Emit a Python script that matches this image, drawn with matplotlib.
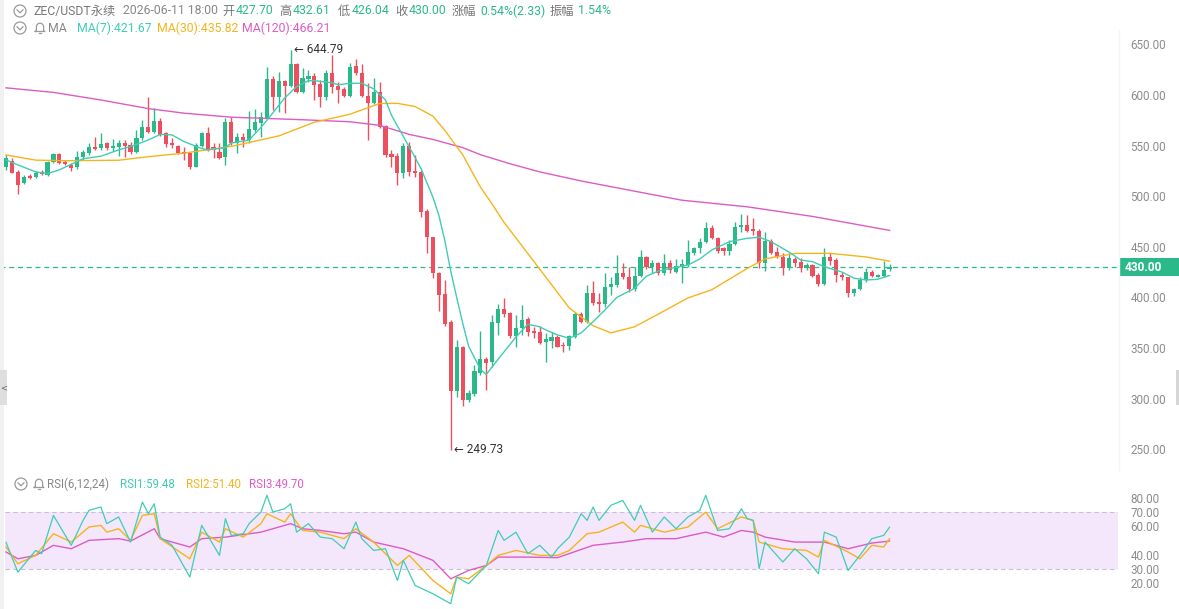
import numpy as np
import matplotlib.pyplot as plt
from matplotlib.patches import Rectangle, Ellipse
from matplotlib.lines import Line2D
import matplotlib.transforms as mtransforms

# ---- candles (ZEC/USDT perpetual) ----
opens = [528.6, 535.1, 524.3, 513.4, 520.0, 518.7, 523.9, 521.0, 534.2, 541.7,
         534.2, 530.9, 528.6, 538.4, 542.4, 549.0, 547.3, 552.2, 547.3, 548.3,
         552.9, 550.6, 543.7, 557.2, 568.7, 563.8, 574.3, 562.1, 552.2, 549.6,
         544.0, 542.4, 529.2, 549.6, 562.1, 548.3, 544.0, 539.1, 573.6, 552.9,
         558.8, 555.5, 565.4, 572.6, 576.9, 615.4, 598.3, 614.1, 608.8, 630.5,
         603.2, 616.1, 618.7, 610.8, 597.6, 622.0, 608.8, 605.5, 599.0, 628.6,
         621.3, 599.0, 592.4, 603.2, 569.3, 541.7, 539.7, 523.3, 549.6, 524.9,
         524.2, 485.7, 459.4, 424.5, 403.4, 376.1, 307.9, 351.4, 298.7, 304.6,
         325.0, 339.5, 336.0, 375.1, 388.9, 385.0, 361.9, 369.5, 378.4, 367.2,
         366.2, 356.3, 357.3, 361.2, 353.0, 352.0, 361.2, 383.6, 376.1, 404.7,
         395.8, 393.5, 410.0, 412.3, 424.5, 419.9, 408.0, 421.2, 439.6, 429.7,
         434.3, 423.8, 434.3, 425.4, 430.4, 432.0, 444.2, 448.5, 455.1, 468.2,
         458.4, 448.5, 446.2, 452.8, 469.2, 471.5, 467.2, 465.9, 433.7, 456.1,
         445.2, 440.3, 428.7, 437.6, 435.3, 428.7, 432.0, 422.2, 413.3, 439.6,
         437.0, 422.2, 419.8, 404.7, 408.0, 417.2, 425.4, 420.5, 421.2, 427.70]
highs = [540.7, 537.4, 525.9, 521.0, 522.0, 524.6, 525.9, 535.1, 543.0, 542.4,
         535.8, 532.5, 545.0, 545.7, 552.2, 558.8, 562.1, 553.9, 556.2, 555.5,
         555.5, 553.9, 565.4, 575.3, 598.3, 586.8, 576.9, 563.8, 557.2, 550.6,
         548.9, 543.0, 552.2, 563.8, 568.7, 552.2, 552.2, 576.9, 577.9, 562.1,
         562.1, 584.5, 585.8, 583.5, 627.9, 618.7, 623.0, 614.8, 644.79, 631.2,
         626.3, 624.6, 621.3, 614.8, 624.6, 639.4, 613.1, 608.2, 631.2, 635.2,
         630.5, 611.4, 616.4, 613.1, 570.3, 545.6, 542.4, 552.2, 553.9, 540.7,
         525.9, 487.0, 460.0, 425.5, 417.2, 377.7, 358.0, 352.0, 308.6, 333.2,
         367.2, 341.0, 382.6, 393.5, 399.8, 385.9, 382.6, 392.5, 380.3, 371.1,
         371.8, 364.5, 366.2, 362.9, 356.3, 362.9, 386.0, 386.0, 412.3, 416.6,
         404.0, 423.8, 420.5, 441.9, 433.7, 430.4, 430.4, 446.8, 440.9, 437.0,
         435.3, 442.6, 437.0, 437.6, 437.6, 456.7, 450.1, 458.4, 474.8, 471.5,
         460.0, 450.1, 456.7, 474.8, 482.4, 481.4, 478.1, 467.2, 464.9, 457.4,
         450.1, 443.6, 443.6, 440.2, 438.6, 433.7, 433.0, 423.8, 448.5, 443.6,
         438.6, 425.4, 420.5, 409.0, 419.8, 428.7, 427.1, 423.1, 436.3, 432.61]
lows = [525.9, 522.6, 502.2, 512.1, 516.7, 518.0, 520.7, 520.0, 533.2, 531.9,
        530.9, 525.3, 527.3, 535.8, 540.7, 545.7, 545.7, 545.7, 545.0, 539.7,
        539.1, 541.7, 542.4, 555.5, 562.1, 562.8, 559.5, 549.0, 547.3, 541.7,
        535.8, 526.6, 528.6, 548.3, 545.0, 537.4, 536.8, 530.9, 550.6, 542.4,
        548.9, 552.2, 563.8, 558.8, 575.9, 585.1, 583.5, 582.5, 608.2, 602.2,
        602.2, 613.1, 595.0, 588.4, 595.0, 601.6, 591.7, 597.6, 598.3, 619.7,
        597.6, 555.5, 591.0, 567.0, 538.4, 529.2, 511.1, 517.6, 520.0, 519.3,
        479.8, 443.6, 418.9, 386.9, 371.8, 249.73, 302.0, 292.8, 297.0, 302.6,
        323.4, 309.0, 331.6, 362.9, 381.0, 360.0, 351.4, 362.9, 361.9, 359.6,
        354.0, 336.6, 349.7, 350.7, 346.4, 348.1, 359.6, 374.4, 374.4, 392.5,
        386.0, 390.2, 402.4, 410.6, 417.9, 405.7, 406.7, 419.9, 427.8, 423.8,
        422.2, 422.2, 423.8, 423.8, 413.9, 430.4, 441.9, 443.6, 453.4, 457.4,
        443.6, 441.9, 441.9, 451.8, 464.9, 464.9, 461.6, 428.7, 426.4, 442.9,
        438.6, 422.2, 427.1, 430.4, 425.4, 427.1, 419.8, 411.3, 412.3, 432.0,
        415.6, 417.2, 400.8, 401.4, 407.3, 415.6, 419.8, 419.8, 420.5, 426.04]
closes = [537.4, 523.3, 511.1, 518.7, 518.0, 523.3, 522.0, 534.2, 541.7, 532.5,
          531.9, 527.6, 539.1, 544.0, 549.0, 547.0, 551.6, 547.3, 549.6, 552.9,
          549.6, 544.0, 557.2, 568.7, 563.8, 574.3, 560.5, 551.3, 550.3, 542.4,
          541.7, 529.2, 550.6, 562.1, 546.3, 545.7, 537.4, 573.6, 552.2, 558.8,
          555.5, 566.0, 573.6, 577.9, 615.4, 598.3, 614.1, 609.2, 630.5, 603.2,
          616.4, 618.7, 609.8, 597.6, 622.0, 608.2, 604.9, 599.0, 627.3, 621.3,
          599.0, 592.4, 603.2, 568.7, 540.7, 539.1, 523.3, 549.6, 524.2, 523.3,
          484.7, 459.4, 423.8, 402.4, 373.8, 307.9, 351.4, 298.7, 305.3, 327.6,
          338.9, 335.6, 376.0, 388.2, 383.6, 361.9, 369.5, 377.7, 366.2, 365.2,
          355.3, 358.6, 361.2, 351.4, 352.0, 361.9, 383.6, 376.1, 404.7, 394.8,
          393.5, 410.0, 413.3, 424.5, 419.9, 408.0, 421.2, 439.6, 429.7, 434.3,
          424.5, 434.3, 427.1, 431.0, 433.0, 445.2, 448.5, 455.1, 468.2, 458.4,
          446.2, 446.2, 452.8, 469.9, 471.5, 465.9, 465.9, 434.3, 456.1, 444.2,
          440.3, 428.7, 438.6, 433.7, 428.7, 432.0, 421.2, 413.3, 439.6, 436.3,
          422.2, 419.8, 404.7, 408.0, 417.2, 425.4, 421.2, 422.2, 427.1, 430.00]

# ---- moving averages, read at selected candles ----
ma7_idx = [0, 2, 5, 7, 9, 12, 13, 16, 19, 21, 24, 26, 28, 30, 33, 34, 37, 38, 41, 43,
           44, 47, 49, 51, 52, 55, 56, 58, 60, 62, 64, 65, 67, 69, 70, 72, 73, 74, 75, 76,
           77, 78, 80, 81, 83, 86, 88, 90, 91, 93, 95, 97, 99, 101, 103, 106, 108, 110, 112, 115,
           117, 119, 122, 125, 127, 129, 132, 134, 136, 138, 141, 143, 145, 147, 149]
ma7 = [535.8, 530.9, 524.0, 522.3, 526.0, 534.2, 537.0, 539.5, 545.7, 549.0,
       555.5, 561.0, 560.5, 554.0, 547.0, 545.7, 548.0, 552.5, 555.5, 568.0,
       575.0, 597.0, 608.2, 614.1, 614.1, 612.0, 610.0, 611.5, 611.5, 606.0,
       595.0, 580.0, 559.0, 538.0, 527.0, 499.0, 481.0, 456.0, 426.0, 400.0,
       375.0, 352.0, 329.0, 324.0, 339.0, 361.0, 373.5, 371.0, 368.0, 363.0,
       359.6, 365.0, 376.0, 387.6, 400.0, 409.0, 421.0, 426.0, 428.7, 432.0,
       438.0, 446.8, 455.1, 458.4, 459.4, 455.1, 445.0, 437.0, 435.3, 430.4,
       425.0, 419.0, 417.2, 417.9, 421.67]
ma30_idx = [0, 5, 10, 19, 24, 30, 38, 46, 52, 58, 63, 66, 69, 72, 74, 77, 80, 82, 84, 87,
            90, 95, 99, 102, 106, 110, 115, 119, 125, 128, 133, 139, 145, 149]
ma30 = [540.7, 535.6, 535.0, 535.5, 539.0, 542.5, 549.2, 559.5, 573.0, 581.0,
        591.5, 591.7, 588.5, 579.0, 565.0, 541.0, 509.0, 492.0, 474.0, 451.0,
        428.0, 389.5, 372.0, 365.0, 371.0, 383.5, 399.5, 407.5, 428.7, 438.0,
        443.5, 443.5, 440.0, 435.82]
ma120_idx = [0, 8, 16, 24, 30, 38, 50, 58, 63, 68, 72, 77, 80, 85, 90, 97, 114, 125, 136, 149]
ma120 = [607.0, 602.5, 595.0, 586.5, 582.0, 578.0, 575.5, 573.5, 570.0, 561.0,
         556.0, 548.0, 541.0, 532.0, 524.0, 515.0, 496.0, 489.5, 480.0, 466.21]

# ---- RSI(6,12,24), read at selected candles ----
rsi1_idx = [0, 2, 5, 6, 8, 10, 11, 13, 14, 16, 17, 19, 21, 23, 24, 25, 26, 28, 31, 33,
            35, 36, 37, 38, 40, 41, 43, 44, 45, 47, 48, 49, 51, 53, 55, 57, 59, 60, 62, 64,
            66, 67, 69, 72, 75, 76, 78, 81, 83, 84, 86, 88, 90, 92, 93, 95, 97, 98, 99, 100,
            102, 104, 106, 107, 109, 111, 113, 115, 117, 118, 120, 122, 124, 125, 126, 127, 128, 131, 133, 135,
            137, 138, 140, 142, 144, 146, 148, 149]
rsi1 = [48.8, 27.8, 43.1, 40.8, 67.8, 53.7, 46.7, 64.3, 71.4, 73.7,
        62.0, 66.7, 49.0, 77.2, 69.0, 76.0, 52.5, 46.7, 24.3, 60.8,
        46.7, 39.6, 65.5, 53.7, 54.9, 62.0, 70.2, 82.0, 70.2, 72.5,
        76.0, 56.0, 62.0, 52.5, 51.4, 44.3, 63.1, 51.4, 43.1, 44.3,
        21.9, 36.1, 18.4, 12.5, 5.5, 24.3, 19.6, 32.5, 57.2, 50.2,
        56.0, 40.8, 46.7, 38.4, 44.3, 52.5, 69.0, 64.3, 73.7, 64.3,
        74.9, 78.4, 64.3, 74.9, 56.0, 66.7, 58.4, 66.7, 71.4, 82.0,
        57.2, 58.4, 72.5, 65.5, 64.3, 30.2, 49.0, 34.9, 44.3, 37.2,
        26.7, 56.0, 52.5, 29.0, 39.6, 51.4, 53.7, 59.48]
rsi2_idx = [0, 2, 5, 8, 11, 14, 16, 17, 19, 21, 23, 25, 26, 31, 33, 36, 37, 40, 43, 44,
            47, 48, 50, 53, 57, 59, 62, 66, 68, 72, 75, 76, 78, 81, 83, 86, 90, 93, 95, 98,
            100, 104, 106, 107, 111, 115, 118, 120, 124, 126, 127, 131, 135, 137, 138, 142, 144, 146, 148, 149]
rsi2 = [45.5, 33.7, 39.6, 54.9, 49.0, 59.6, 60.8, 56.0, 58.4, 50.2,
        67.8, 69.0, 51.4, 37.2, 56.0, 49.0, 58.4, 52.5, 62.0, 69.0,
        63.1, 69.0, 57.2, 56.0, 51.4, 58.4, 49.0, 32.5, 39.6, 21.9,
        12.5, 24.3, 23.1, 32.5, 39.6, 43.1, 39.6, 39.6, 43.1, 54.9,
        56.0, 63.1, 56.0, 60.8, 56.0, 59.6, 70.2, 58.4, 66.7, 64.3,
        49.0, 44.3, 43.1, 38.4, 50.2, 42.0, 37.2, 46.7, 45.5, 51.40]
rsi3_idx = [0, 2, 5, 8, 11, 14, 19, 21, 25, 26, 31, 33, 37, 43, 48, 50, 53, 57, 59, 62,
            67, 72, 75, 78, 81, 83, 88, 93, 99, 104, 108, 113, 118, 121, 124, 126, 128, 133, 138, 142,
            146, 149]
rsi3 = [42.0, 37.2, 39.6, 46.7, 44.3, 50.2, 51.4, 49.7, 58.4, 51.4,
        45.5, 51.4, 52.5, 56.0, 62.0, 58.4, 57.2, 54.9, 56.0, 49.0,
        44.3, 36.1, 23.1, 29.0, 32.5, 38.4, 38.4, 38.0, 46.7, 49.0,
        51.4, 51.4, 56.0, 52.5, 57.2, 56.0, 52.5, 49.0, 49.0, 44.3,
        48.3, 49.70]

price_ticks = [650, 600, 550, 500, 450, 400, 350, 300, 250]
rsi_ticks = [80, 70, 60, 40, 30, 20]
last_price = 430.00

GREEN = '#2cb98a'
RED = '#ec4f5d'
C_MA7 = '#3fcdb5'
C_MA30 = '#f6b41c'
C_MA120 = '#dc5cc4'
GREY = '#8c8c8c'

W, H = 1179, 609
fig = plt.figure(figsize=(W / 100, H / 100), dpi=100)
fig.patch.set_facecolor('white')


def px_axes(x0, y0, x1, y1):
    return fig.add_axes([x0 / W, 1 - y1 / H, (x1 - x0) / W, (y1 - y0) / H])


def clean(ax):
    for s in ax.spines.values():
        s.set_visible(False)
    ax.set_xticks([])
    ax.yaxis.tick_right()
    ax.tick_params(axis='y', length=0, pad=9, labelsize=8.4, labelcolor=GREY)
    for t in ax.get_yticklabels():
        t.set_fontfamily('Roboto')


# candle i sits at x = 6 + 5.93*i px
x_lo, x_hi = -6 / 5.93, (1118 - 6) / 5.93

# ---------- price panel ----------
ax = px_axes(0, 38, 1118, 466)
ax.set_xlim(x_lo, x_hi)
ax.set_ylim(650 - (466 - 44.3) / 1.0125, 650 + (44.3 - 38) / 1.0125)

idx = np.arange(len(closes))
o = np.array(opens); h = np.array(highs); l = np.array(lows); c = np.array(closes)
cols = np.where(c >= o, GREEN, RED)
ax.vlines(idx, l, h, colors=cols, lw=1.0, zorder=2)
ax.bar(idx, np.maximum(np.abs(c - o), 1.0), bottom=np.minimum(o, c), width=0.7,
       color=cols, linewidth=0, zorder=3)

ax.plot(ma120_idx, ma120, color=C_MA120, lw=1.0, zorder=4)
ax.plot(ma30_idx, ma30, color=C_MA30, lw=1.0, zorder=4)
ax.plot(ma7_idx, ma7, color=C_MA7, lw=1.0, zorder=4)

ax.axhline(last_price, color=GREEN, lw=0.9, ls=(0, (4, 3)), zorder=1)
ax.set_yticks(price_ticks)
ax.set_yticklabels([f'{v:.2f}' for v in price_ticks])
clean(ax)

trans = mtransforms.blended_transform_factory(ax.transAxes, ax.transData)
ax.add_patch(Rectangle((1.0 + 1 / 1118, last_price - 8.8), 61 / 1118, 17.6, transform=trans,
                       fc=GREEN, ec='none', clip_on=False, zorder=5))
ax.text(1.0 + 7 / 1118, last_price, f'{last_price:.2f}', transform=trans, ha='left', va='center',
        color='white', fontsize=8.6, fontweight='bold', family='Roboto', zorder=6)

hi_i = int(np.argmax(h)); lo_i = int(np.argmin(l))
ax.text(hi_i + 0.6, h[hi_i], f'\u2190 {h[hi_i]:.2f}', ha='left', va='center', fontsize=8.5,
        color='#333333', family=['Roboto', 'DejaVu Sans'], zorder=6)
ax.text(lo_i + 0.6, l[lo_i], f'\u2190 {l[lo_i]:.2f}', ha='left', va='center', fontsize=8.5,
        color='#333333', family=['Roboto', 'DejaVu Sans'], zorder=6)

# ---------- RSI panel ----------
ar = px_axes(0, 488, 1118, 607)
ar.set_xlim(x_lo, x_hi)
ar.set_ylim(70 - (607 - 512.3) / 1.4175, 70 + (512.3 - 488) / 1.4175)
ar.axhspan(30, 70, xmin=5 / 1118, xmax=1.0, color='#f4e7fc', lw=0, zorder=0)
ar.axhline(70, xmin=5 / 1118, color='#c8bfcf', lw=0.8, ls=(0, (4, 3)), zorder=1)
ar.axhline(30, xmin=5 / 1118, color='#c8bfcf', lw=0.8, ls=(0, (4, 3)), zorder=1)
ar.plot(rsi3_idx, rsi3, color=C_MA120, lw=1.0, zorder=3)
ar.plot(rsi2_idx, rsi2, color=C_MA30, lw=1.0, zorder=3)
ar.plot(rsi1_idx, rsi1, color=C_MA7, lw=0.9, zorder=4)
ar.set_yticks(rsi_ticks)
ar.set_yticklabels([f'{v:.2f}' for v in rsi_ticks])
clean(ar)

# ---------- frame details ----------
fig.add_artist(Rectangle((0, 0), 4 / W, 1, transform=fig.transFigure, fc='#f1f1f1', ec='none'))
fig.add_artist(Rectangle((0, 1 - 405 / H), 7 / W, 35 / H, transform=fig.transFigure,
                         fc='#dedede', ec='none'))
fig.text(3.5 / W, 1 - 388 / H, '<', fontsize=6, color='#666666', ha='center', va='center')
fig.add_artist(Rectangle((1176 / W, 1 - 405 / H), 3 / W, 35 / H, transform=fig.transFigure,
                         fc='#d6d6d6', ec='none'))
fig.add_artist(Line2D([1119 / W, 1119 / W], [1 - 470 / H, 1 - 30 / H], color='#f5f5f5', lw=1))


def chevron_icon(x, y):
    fig.add_artist(Ellipse((x / W, 1 - y / H), 12 / W, 12 / H, transform=fig.transFigure,
                           fc='none', ec='#9a9a9a', lw=0.9))
    fig.add_artist(Line2D([(x - 3) / W, x / W, (x + 3) / W],
                          [1 - (y - 1.2) / H, 1 - (y + 1.8) / H, 1 - (y - 1.2) / H],
                          color='#9a9a9a', lw=0.9))


def bell_icon(x, y):
    t = np.linspace(0, np.pi, 20)
    bx = x + 3.6 * np.cos(t)
    by = y - 1 - 3.8 * np.sin(t)
    xs = np.concatenate([[x - 4.8, x - 3.6], bx[::-1], [x + 3.6, x + 4.8, x - 4.8]])
    ys = np.concatenate([[y + 3.5, y + 2.5], by[::-1], [y + 2.5, y + 3.5, y + 3.5]])
    fig.add_artist(Line2D(xs / W, 1 - ys / H, color='#9a9a9a', lw=0.9))
    fig.add_artist(Line2D([(x - 1.2) / W, (x + 1.2) / W], [1 - (y + 5.2) / H, 1 - (y + 5.2) / H],
                          color='#9a9a9a', lw=0.9))


FONT = ['Roboto', 'Noto Sans CJK SC', 'DejaVu Sans']


def put(x, y, s, color, size=8.8):
    fig.text(x / W, 1 - y / H, s, color=color, fontsize=size, ha='left', va='center', family=FONT)


# header line 1
chevron_icon(20, 11)
put(33, 11, 'ZEC/USDT永续', '#777777')
put(123, 11, '2026-06-11 18:00', '#888888')
head = [('开', f'{opens[-1]:.2f}', 222), ('高', f'{highs[-1]:.2f}', 279),
        ('低', f'{lows[-1]:.2f}', 338), ('收', f'{closes[-1]:.2f}', 395)]
for lab, val, x in head:
    put(x, 11, lab, '#777777')
    put(x + 14, 11, val, GREEN)
put(452, 11, '涨幅', '#777777')
put(480, 11, '0.54%(2.33)', GREEN)
put(550, 11, '振幅', '#777777')
put(578, 11, '1.54%', GREEN)

# header line 2
chevron_icon(20, 28)
bell_icon(40, 28)
put(48, 28, 'MA', '#888888')
put(77, 28, f'MA(7):{ma7[-1]:.2f}', C_MA7)
put(157, 28, f'MA(30):{ma30[-1]:.2f}', C_MA30)
put(242, 28, f'MA(120):{ma120[-1]:.2f}', C_MA120)

# RSI header
chevron_icon(21, 484)
bell_icon(39, 484)
put(47, 484, 'RSI(6,12,24)', '#888888', 8.3)
put(120, 484, f'RSI1:{rsi1[-1]:.2f}', C_MA7, 8.3)
put(186, 484, f'RSI2:{rsi2[-1]:.2f}', C_MA30, 8.3)
put(249, 484, f'RSI3:{rsi3[-1]:.2f}', C_MA120, 8.3)

fig.savefig('out.png', dpi=100, facecolor='white')
